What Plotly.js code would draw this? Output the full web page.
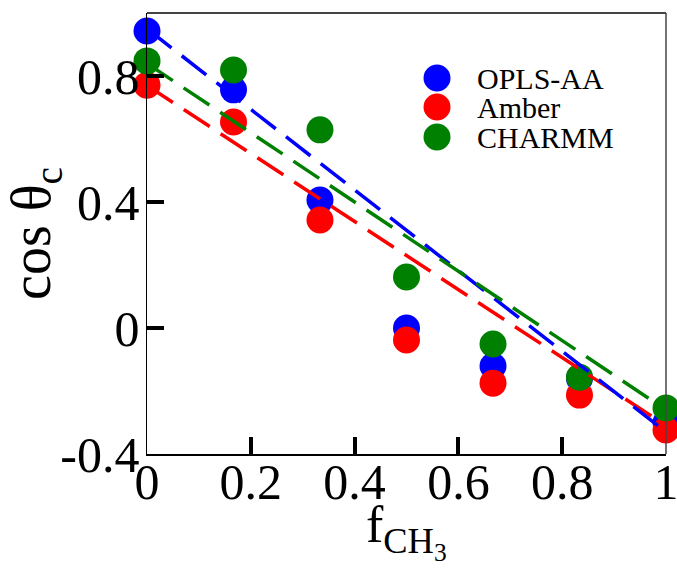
<!DOCTYPE html>
<html>
<head>
<meta charset="utf-8">
<script src="https://cdn.plot.ly/plotly-3.0.1.min.js"></script>
<style>html,body{margin:0;padding:0;background:#fff;}#chart{width:677px;height:577px;}</style>
</head>
<body>
<div id="chart"></div>
<script>
// Data
const fCH3 = [0, 0.1667, 0.3333, 0.5, 0.6667, 0.8333, 1];
const oplsAA = [0.943, 0.756, 0.406, 0.0, -0.121, -0.16, -0.30];
const amber  = [0.771, 0.654, 0.343, -0.038, -0.175, -0.213, -0.324];
const charmm = [0.848, 0.819, 0.629, 0.162, -0.051, -0.156, -0.254];

// Dashed fit lines (end points)
const fitX = [0, 1];
const oplsFit = [0.95, -0.33];
const amberFit = [0.77, -0.31];
const charmmFit = [0.84, -0.26];

const seriesNames = ['OPLS-AA', 'Amber', 'CHARMM'];
const seriesColors = ['#0000ff', '#ff0000', '#008000'];

const xTickVals = [0, 0.2, 0.4, 0.6, 0.8, 1];
const xTickText = ['0', '0.2', '0.4', '0.6', '0.8', '1'];
const yTickVals = [-0.4, 0, 0.4, 0.8];
const yTickText = ['-0.4', '0', '0.4', '0.8'];
const xTitle = 'f<sub>CH<sub>3</sub></sub>';
const yTitle = 'cos θ<sub>c</sub>';

const serif = 'Liberation Serif, Times New Roman, serif';
const MS = 27;

function pts(y, i) {
  return {x: fCH3, y: y, mode: 'markers', type: 'scatter', name: seriesNames[i],
    marker: {color: seriesColors[i], size: MS, line: {width: 0}}, cliponaxis: false, showlegend: false};
}
function fit(y, i) {
  return {x: fitX, y: y, mode: 'lines', type: 'scatter', name: seriesNames[i] + ' fit',
    line: {color: seriesColors[i], width: 3.5, dash: '31px,13px'}, showlegend: false, hoverinfo: 'skip'};
}

const data = [
  pts(oplsAA, 0), pts(amber, 1), pts(charmm, 2),
  fit(amberFit, 1), fit(oplsFit, 0), fit(charmmFit, 2)
];

// Legend (drawn manually to keep large symbols)
const legX = 0.5588, legTextX = 0.632;
const legY = [0.8526, 0.7868, 0.7188];
const shapes = [
  {type: 'line', xref: 'paper', yref: 'paper', x0: 0, x1: 1, y0: 1, y1: 1, line: {color: '#444', width: 2}},
  {type: 'line', xref: 'paper', yref: 'paper', x0: 1, x1: 1, y0: 0, y1: 1, line: {color: '#444', width: 1.5}}
];
const annotations = [];
seriesNames.forEach((n, i) => {
  shapes.push({type: 'circle', xref: 'paper', yref: 'paper', xsizemode: 'pixel', ysizemode: 'pixel',
    xanchor: legX, yanchor: legY[i], x0: -MS/2, x1: MS/2, y0: -MS/2, y1: MS/2,
    fillcolor: seriesColors[i], line: {width: 0}});
  annotations.push({xref: 'paper', yref: 'paper', x: legTextX, y: legY[i], xanchor: 'left', yanchor: 'middle',
    text: n, showarrow: false, font: {family: serif, size: 30, color: '#000'}});
});
// x-axis title placed as an annotation for exact positioning
annotations.push({xref: 'paper', yref: 'paper', x: 0.5, y: -0.09, xanchor: 'center', yanchor: 'top',
  text: xTitle, showarrow: false, font: {family: serif, size: 52, color: '#000'}});

const axisCommon = {
  ticks: 'inside', ticklen: 17, tickwidth: 4, tickcolor: '#000',
  showline: true, linecolor: '#000', linewidth: 1.5, mirror: false,
  showgrid: false, zeroline: false, tickmode: 'array', ticklabeloverflow: 'allow',
  tickfont: {family: serif, size: 50, color: '#000'}, automargin: false
};

const layout = {
  width: 677, height: 577,
  margin: {l: 147, r: 11, t: 13, b: 123},
  paper_bgcolor: '#fff', plot_bgcolor: '#fff',
  showlegend: false,
  xaxis: Object.assign({}, axisCommon, {
    range: [0, 1], tickvals: xTickVals, ticktext: xTickText, ticklabelstandoff: -17
  }),
  yaxis: Object.assign({}, axisCommon, {
    range: [-0.4, 1.0], tickvals: yTickVals, ticktext: yTickText, ticklabelstandoff: -4,
    title: {text: yTitle, font: {family: serif, size: 56, color: '#000'}, standoff: 2}
  }),
  shapes: shapes,
  annotations: annotations
};

Plotly.newPlot('chart', data, layout, {displayModeBar: false, staticPlot: true});
</script>
</body>
</html>
